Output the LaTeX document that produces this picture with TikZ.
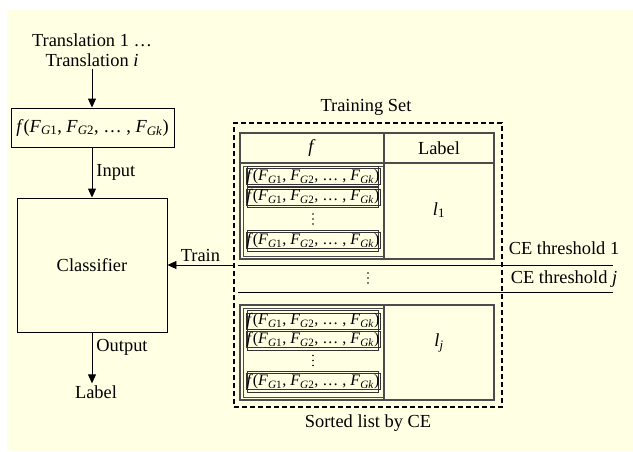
\documentclass[tikz,border=0pt]{standalone}
\usepackage{fontspec}
\setmainfont{Liberation Serif}
\usetikzlibrary{arrows.meta}
\definecolor{bgc}{HTML}{FFFFE3}
\newcommand{\fexpr}{\textit{f}(\textit{F}\textsubscript{\textit{G}1}, \textit{F}\textsubscript{\textit{G}2}, … , \textit{F}\textsubscript{\textit{Gk}})}
\tikzset{
  box/.style={draw=black, line width=0.9pt, inner sep=0pt},
  arr/.style={line width=0.9pt, -{Triangle[length=9pt,width=8pt]}},
  tline/.style={draw=black!70, line width=1.3pt},
  tinner/.style={draw=black!70, line width=0.7pt},
  cell/.style={draw=black!80, line width=0.9pt, minimum width=134pt, minimum height=16pt, inner sep=0pt, font=\fontsize{16}{18}\selectfont,
    append after command={\pgfextra{\draw[black!80, line width=0.6pt] ([shift={(2pt,2pt)}]\tikzlastnode.north west) rectangle ([shift={(-2pt,-2pt)}]\tikzlastnode.south east);}}},
  thr/.style={line width=0.9pt},
  lbl/.style={inner sep=2pt},
  vdot/.style={fill=black, circle, inner sep=0pt, minimum size=1.8pt}
}
\begin{document}
\begin{tikzpicture}[x=1pt,y=-1pt,font=\fontsize{18.4}{20}\selectfont]
\useasboundingbox (0,0) rectangle (633,451);
\fill[bgc] (7,10) rectangle (633,451);

% left column
\node[lbl, align=center] (tr) at (92,50) {Translation 1 …\\Translation \textit{i}};
\node[box, minimum width=163pt, minimum height=39pt] (fb) at (92.5,127.5) {\fexpr};
\node[box, minimum width=150pt, minimum height=134pt] (cls) at (92,265) {Classifier};
\node[lbl] (lab) at (96,392) {Label};
\draw[arr] (tr) -- (fb.north -| tr);
\draw[arr] (fb.south -| cls.north) -- node[right, inner sep=4pt]{Input} (cls.north);
\draw[arr] (cls.south) -- node[right, pos=0.3, inner sep=4pt]{Output} (cls.south |- lab.north);

% training set
\node[draw, line width=1.4pt, dash pattern=on 5pt off 3pt, minimum width=268pt, minimum height=284pt, inner sep=0pt] (ts) at (368,265) {};
\node (tstitle) at (366,107) {Training Set};
\node (sorted) at (368,423) {Sorted list by CE};

% header
\draw[tline] (240,133) rectangle (494,163);
\draw[tline] (384,133) -- (384,163);
\node (hf) at (312,148) {\textit{f}};
\node (hl) at (439,148) {Label};

% group 1
\draw[tline] (240,163) rectangle (494,259);
\draw[tinner] (243,166) rectangle (384,256);
\draw[tline] (384,163) -- (384,259);
\node[cell] (a1) at (313,176.5) {\fexpr};
\node[cell] (a2) at (313,197) {\fexpr};
\foreach \dy in {-5,0,5} \node[vdot] at (313,219+\dy) {};
\node[cell] (a4) at (313,240.5) {\fexpr};
\node (l1) at (439,210) {\textit{l}\textsubscript{1}};

% thresholds
\coordinate (t1a) at (238,265);
\coordinate (t1b) at (613,265);
\coordinate (t2a) at (238,292);
\coordinate (t2b) at (613,292);
\draw[thr] (t1a) -- (t1b);
\draw[thr] (t2a) -- (t2b);
\foreach \dy in {-5,0,5} \node[vdot] at (368,278+\dy) {};
\node (ce1) at (564,248) {CE threshold 1};
\node (cej) at (564,279) {CE threshold \textit{j}};

% group 2
\draw[tline] (240,305) rectangle (494,400);
\draw[tinner] (243,308) rectangle (384,397);
\draw[tline] (384,305) -- (384,400);
\node[cell] (b1) at (313,321) {\fexpr};
\node[cell] (b2) at (313,339.5) {\fexpr};
\foreach \dy in {-5,0,5} \node[vdot] at (313,360.5+\dy) {};
\node[cell] (b4) at (313,381.5) {\fexpr};
\node (lj) at (439,343) {\textit{l}\textsubscript{\textit{j}}};

% train arrow
\draw[arr] (ts.west |- cls.east) -- node[above, inner sep=3pt]{Train} (cls.east);
\end{tikzpicture}
\end{document}
